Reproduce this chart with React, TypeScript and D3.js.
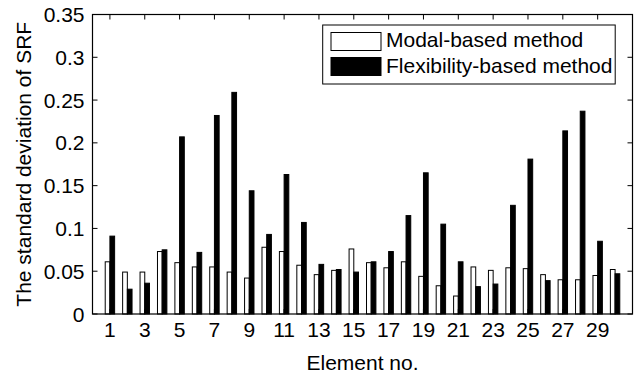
import React from "react";
import * as d3 from "d3";

const elements = d3.range(1, 31);
const modalValues = [
  0.061, 0.049, 0.049, 0.073, 0.06, 0.055, 0.055, 0.049, 0.042, 0.078,
  0.073, 0.057, 0.046, 0.051, 0.076, 0.06, 0.054, 0.061, 0.044, 0.033,
  0.021, 0.055, 0.051, 0.054, 0.053, 0.046, 0.04, 0.04, 0.045, 0.052,
];
const flexValues = [
  0.091, 0.029, 0.036, 0.075, 0.207, 0.072, 0.232, 0.259, 0.144, 0.093,
  0.163, 0.107, 0.058, 0.052, 0.049, 0.061, 0.073, 0.115, 0.165, 0.105,
  0.061, 0.032, 0.035, 0.127, 0.181, 0.039, 0.214, 0.237, 0.085, 0.047,
];
const xTicks = [1, 3, 5, 7, 9, 11, 13, 15, 17, 19, 21, 23, 25, 27, 29];
const yTicks = [0, 0.05, 0.1, 0.15, 0.2, 0.25, 0.3, 0.35];
const yTickLabels = ["0", "0.05", "0.1", "0.15", "0.2", "0.25", "0.3", "0.35"];
const seriesNames = ["Modal-based method", "Flexibility-based method"];

const W = 642;
const H = 374;
const left = 92.5;
const right = 632.5;
const top = 14.5;
const bottom = 314;
const font = "'Liberation Sans', Arial, Helvetica, sans-serif";
const fs = 21;

export default function App() {
  const x = d3.scaleLinear().domain([0, 31]).range([left, right]);
  const y = d3.scaleLinear().domain([0, 0.35]).range([bottom, top]);
  const bw = x(0.27) - x(0);
  const tickLen = 5;

  return (
    <svg
      width={W}
      height={H}
      style={{ position: "absolute", left: 0, top: 0, background: "#fff" }}
      fontFamily={font}
    >
      <rect x={0} y={0} width={W} height={H} fill="#fff" />
      {elements.map((e, i) => (
        <g key={e}>
          <rect
            x={x(e) - bw}
            y={y(modalValues[i])}
            width={bw}
            height={y(0) - y(modalValues[i])}
            fill="#fff"
            stroke="#000"
            strokeWidth={1}
          />
          <rect
            x={x(e)}
            y={y(flexValues[i])}
            width={bw}
            height={y(0) - y(flexValues[i])}
            fill="#000"
            stroke="#000"
            strokeWidth={1}
          />
        </g>
      ))}
      {/* box */}
      <rect
        x={left}
        y={top}
        width={right - left}
        height={bottom - top}
        fill="none"
        stroke="#000"
        strokeWidth={1.2}
      />
      {/* x ticks */}
      {xTicks.map((t) => (
        <g key={"x" + t}>
          <line x1={x(t)} x2={x(t)} y1={bottom} y2={bottom - tickLen} stroke="#000" />
          <line x1={x(t)} x2={x(t)} y1={top} y2={top + tickLen} stroke="#000" />
          <text x={x(t)} y={bottom + 23} textAnchor="middle" fontSize={fs} fill="#000">
            {t}
          </text>
        </g>
      ))}
      {/* y ticks */}
      {yTicks.map((t, i) => (
        <g key={"y" + t}>
          <line x1={left} x2={left + tickLen} y1={y(t)} y2={y(t)} stroke="#000" />
          <line x1={right} x2={right - tickLen} y1={y(t)} y2={y(t)} stroke="#000" />
          <text
            x={left - 8}
            y={y(t)}
            dy="0.36em"
            textAnchor="end"
            fontSize={fs}
            fill="#000"
          >
            {yTickLabels[i]}
          </text>
        </g>
      ))}
      <text x={(left + right) / 2} y={370} textAnchor="middle" fontSize={fs} fill="#000">
        Element no.
      </text>
      <text
        transform={`translate(31, ${(top + bottom) / 2}) rotate(-90)`}
        textAnchor="middle"
        fontSize={fs}
        fill="#000"
      >
        The standard deviation of SRF
      </text>
      {/* legend */}
      <rect x={322.7} y={25} width={292.5} height={59} fill="#fff" stroke="#000" strokeWidth={1} />
      <rect x={331} y={32.5} width={50} height={18} fill="#fff" stroke="#000" strokeWidth={1} />
      <rect x={331} y={57.5} width={50} height={18} fill="#000" stroke="#000" strokeWidth={1} />
      <text x={386} y={47} fontSize={fs} fill="#000">
        {seriesNames[0]}
      </text>
      <text x={386} y={73} fontSize={fs} fill="#000">
        {seriesNames[1]}
      </text>
    </svg>
  );
}
